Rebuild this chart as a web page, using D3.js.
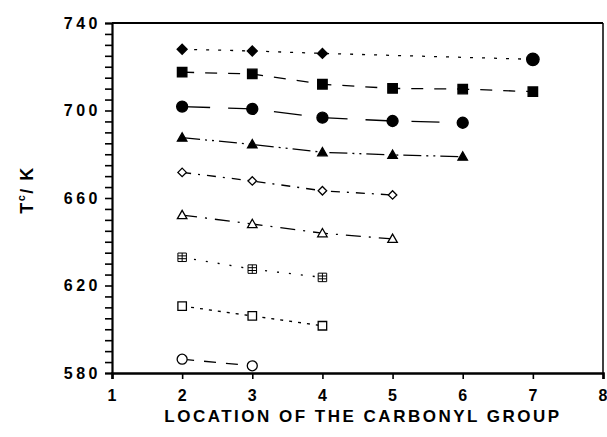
<!DOCTYPE html>
<html>
<head>
<meta charset="utf-8">
<script src="https://cdn.jsdelivr.net/npm/d3@7"></script>
<style>
  body { margin: 0; background: #fff; }
  text { font-family: "Liberation Sans", Arial, sans-serif; font-weight: bold; fill: #000; }
</style>
</head>
<body>
<div id="chart"></div>
<script>
// values (location of C=O vs Tc in K)
const locDiamond = [2, 3, 4, 7];
const tcDiamond = [728.0, 727.2, 726.1, 723.4];
const locSquare = [2, 3, 4, 5, 6, 7];
const tcSquare = [717.5, 716.7, 712.0, 710.1, 709.8, 708.6];
const locCircle = [2, 3, 4, 5, 6];
const tcCircle = [701.8, 700.7, 696.7, 695.2, 694.4];
const locTriangle = [2, 3, 4, 5, 6];
const tcTriangle = [687.6, 684.5, 680.9, 679.7, 678.9];
const locOpenDiamond = [2, 3, 4, 5];
const tcOpenDiamond = [671.7, 667.8, 663.3, 661.4];
const locOpenTriangle = [2, 3, 4, 5];
const tcOpenTriangle = [652.2, 648.1, 643.9, 641.3];
const locCrossSquare = [2, 3, 4];
const tcCrossSquare = [632.9, 627.5, 623.7];
const locOpenSquare = [2, 3, 4];
const tcOpenSquare = [610.6, 606.1, 601.6];
const locOpenCircle = [2, 3];
const tcOpenCircle = [586.3, 583.3];

const xTicks = [1, 2, 3, 4, 5, 6, 7, 8];
const yTicks = [580, 620, 660, 700, 740];

const width = 607, height = 437;
const margin = { top: 23, right: 4, bottom: 64, left: 112 };

const svg = d3.select("#chart").append("svg")
  .attr("width", width)
  .attr("height", height);

const x = d3.scaleLinear().domain([1, 8]).range([margin.left, width - margin.right]);
const y = d3.scaleLinear().domain([580, 740]).range([height - margin.bottom, margin.top]);

// marker paths centred on 0,0
function markerPath(kind, s) {
  const h = s / 2;
  if (kind === "diamond") return `M0,${-h}L${h},0L0,${h}L${-h},0Z`;
  if (kind === "square") return `M${-h},${-h}H${h}V${h}H${-h}Z`;
  if (kind === "cross") return `M${-h},${-h}H${h}V${h}H${-h}ZM${-h},${-h/3}H${h}M${-h},${h/3}H${h}M0,${-h}V${h}`;
  if (kind === "triangle") return `M0,${-h}L${h},${h * 0.75}H${-h}Z`;
  if (kind === "circle") return `M${h},0A${h},${h},0,1,1,${-h},0A${h},${h},0,1,1,${h},0Z`;
  return "";
}

const series = [
  { xs: locDiamond, ys: tcDiamond, kind: "diamond", filled: true, size: 10, dash: "3,9" },
  { xs: locSquare, ys: tcSquare, kind: "square", filled: true, size: 9.5, dash: "12,11" },
  { xs: locCircle, ys: tcCircle, kind: "circle", filled: true, size: 11, dash: "28,18" },
  { xs: locTriangle, ys: tcTriangle, kind: "triangle", filled: true, size: 9.5, dash: "18,5,2,5,2,5" },
  { xs: locOpenDiamond, ys: tcOpenDiamond, kind: "diamond", filled: false, size: 8.5, dash: "9,7,2,7" },
  { xs: locOpenTriangle, ys: tcOpenTriangle, kind: "triangle", filled: false, size: 9.5, dash: "15,8,2,8" },
  { xs: locCrossSquare, ys: tcCrossSquare, kind: "cross", filled: false, size: 8.5, dash: "2,10" },
  { xs: locOpenSquare, ys: tcOpenSquare, kind: "square", filled: false, size: 8.5, dash: "3,6" },
  { xs: locOpenCircle, ys: tcOpenCircle, kind: "circle", filled: false, size: 10, dash: "12,10" }
];

const line = d3.line().x(d => x(d[0])).y(d => y(d[1]));

series.forEach(s => {
  const pts = s.xs.map((v, i) => [v, s.ys[i]]);
  svg.append("path")
    .datum(pts)
    .attr("fill", "none")
    .attr("stroke", "#000")
    .attr("stroke-width", 1.3)
    .attr("stroke-dasharray", s.dash)
    .attr("d", line);

  svg.append("g")
    .selectAll("path")
    .data(pts)
    .join("path")
    .attr("transform", d => `translate(${x(d[0])},${y(d[1])})`)
    // the top series ends with a bigger filled circle at location 7
    .attr("d", d => (s.kind === "diamond" && s.filled && d[0] === 7)
      ? markerPath("circle", 12.5) : markerPath(s.kind, s.size))
    .attr("fill", s.filled ? "#000" : "#fff")
    .attr("stroke", "#000")
    .attr("stroke-width", s.kind === "cross" ? 1 : 1.3);
});

// frame
svg.append("line")
  .attr("x1", x(1)).attr("x2", x(8)).attr("y1", y(740)).attr("y2", y(740))
  .attr("stroke", "#000").attr("stroke-width", 2);
svg.append("line")
  .attr("x1", x(8)).attr("x2", x(8)).attr("y1", y(740)).attr("y2", y(580))
  .attr("stroke", "#000").attr("stroke-width", 1.5);

// y axis with minor ticks every 5
const yAxisG = svg.append("g")
  .attr("transform", `translate(${margin.left},0)`)
  .call(d3.axisLeft(y).tickValues(d3.range(580, 741, 5)).tickSize(7).tickFormat(""));
yAxisG.select(".domain").attr("stroke-width", 2.2);
yAxisG.selectAll(".tick line").attr("stroke-width", 1.6);

svg.append("g")
  .selectAll("text")
  .data(yTicks)
  .join("text")
  .attr("x", margin.left - 11)
  .attr("y", d => y(d))
  .attr("dy", "0.36em")
  .attr("text-anchor", "end")
  .attr("font-size", 16)
  .attr("letter-spacing", 3.5)
  .text(d => d);

// x axis
const xAxisG = svg.append("g")
  .attr("transform", `translate(0,${height - margin.bottom})`)
  .call(d3.axisBottom(x).tickValues(xTicks).tickSize(6).tickFormat(""));
xAxisG.select(".domain").attr("stroke-width", 2.6);
xAxisG.selectAll(".tick line").attr("stroke-width", 1.6);

svg.append("g")
  .selectAll("text")
  .data(xTicks)
  .join("text")
  .attr("x", d => x(d))
  .attr("y", 401)
  .attr("text-anchor", "middle")
  .attr("font-size", 16)
  .text(d => d);

// axis titles
svg.append("text")
  .attr("x", 363)
  .attr("y", 422)
  .attr("text-anchor", "middle")
  .attr("font-size", 17)
  .attr("letter-spacing", 2.5)
  .text("LOCATION OF THE CARBONYL GROUP");

const yTitle = svg.append("text")
  .attr("transform", "translate(33,190) rotate(-90)")
  .attr("text-anchor", "middle")
  .attr("font-size", 18)
  .attr("letter-spacing", 1.5);
yTitle.append("tspan").text("T");
yTitle.append("tspan").attr("font-size", 11).attr("dy", -8).text("c");
yTitle.append("tspan").attr("dy", 8).text("/ K");
</script>
</body>
</html>
